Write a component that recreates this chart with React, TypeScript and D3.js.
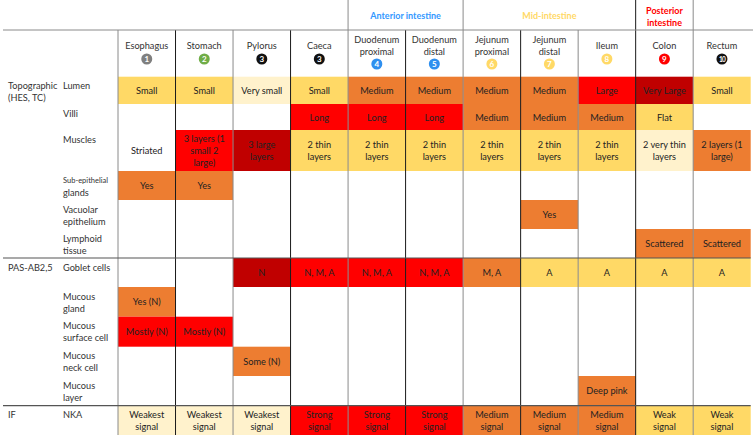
import * as d3 from "d3";

// columns (gut segments) and their header labels / numbers
const organs = [
  "Esophagus", "Stomach", "Pylorus", "Caeca", "Duodenum proximal", "Duodenum distal",
  "Jejunum proximal", "Jejunum distal", "Ileum", "Colon", "Rectum",
];
const organLabels = [
  ["Esophagus"], ["Stomach"], ["Pylorus"], ["Caeca"], ["Duodenum", "proximal"], ["Duodenum", "distal"],
  ["Jejunum", "proximal"], ["Jejunum", "distal"], ["Ileum"], ["Colon"], ["Rectum"],
];
const organNumbers = [1, 2, 3, 3, 4, 5, 6, 7, 8, 9, 10];
const numberColors = [
  "#7f7f7f", "#70ad47", "#111", "#111", "#2e8fef", "#2e8fef",
  "#ffd966", "#ffd966", "#ffd966", "#ff0000", "#111",
];

// region groups spanning columns
const groups = [
  { lines: ["Anterior intestine"], from: 4, to: 5, color: "#3399ff" },
  { lines: ["Mid-intestine"], from: 6, to: 8, color: "#ffd966" },
  { lines: ["Posterior", "intestine"], from: 9, to: 9, color: "#ff0000" },
];

// rows
const features = [
  ["Lumen"], ["Villi"], ["Muscles"], ["Sub-epithelial", "glands"], ["Vacuolar", "epithelium"],
  ["Lymphoid", "tissue"], ["Goblet cells"], ["Mucous", "gland"], ["Mucous", "surface cell"],
  ["Mucous", "neck cell"], ["Mucous", "layer"], ["NKA"],
];
const sections = [
  { lines: ["Topographic", "(HES, TC)"], row: 0 },
  { lines: ["PAS-AB2,5"], row: 6 },
  { lines: ["IF"], row: 11 },
];

// cell values ("" = empty) and intensity levels (0 none .. 5 darkest)
const values = [
  ["Small", "Small", "Very small", "Small", "Medium", "Medium", "Medium", "Medium", "Large", "Very Large", "Small"],
  ["", "", "", "Long", "Long", "Long", "Medium", "Medium", "Medium", "Flat", ""],
  ["Striated", "3 layers (1\nsmall 2\nlarge)", "3 large\nlayers", "2 thin\nlayers", "2 thin\nlayers", "2 thin\nlayers",
    "2 thin\nlayers", "2 thin\nlayers", "2 thin\nlayers", "2 very thin\nlayers", "2 layers (1\nlarge)"],
  ["Yes", "Yes", "", "", "", "", "", "", "", "", ""],
  ["", "", "", "", "", "", "", "Yes", "", "", ""],
  ["", "", "", "", "", "", "", "", "", "Scattered", "Scattered"],
  ["", "", "N", "N, M, A", "N, M, A", "N, M, A", "M, A", "A", "A", "A", "A"],
  ["Yes (N)", "", "", "", "", "", "", "", "", "", ""],
  ["Mostly (N)", "Mostly (N)", "", "", "", "", "", "", "", "", ""],
  ["", "", "Some (N)", "", "", "", "", "", "", "", ""],
  ["", "", "", "", "", "", "", "", "Deep pink", "", ""],
  ["Weakest\nsignal", "Weakest\nsignal", "Weakest\nsignal", "Strong\nsignal", "Strong\nsignal", "Strong\nsignal",
    "Medium\nsignal", "Medium\nsignal", "Medium\nsignal", "Weak\nsignal", "Weak\nsignal"],
];
const levels = [
  [2, 2, 1, 2, 3, 3, 3, 3, 4, 5, 2],
  [0, 0, 0, 4, 4, 4, 3, 3, 3, 2, 0],
  [0, 4, 5, 2, 2, 2, 2, 2, 2, 1, 3],
  [3, 3, 0, 0, 0, 0, 0, 0, 0, 0, 0],
  [0, 0, 0, 0, 0, 0, 0, 3, 0, 0, 0],
  [0, 0, 0, 0, 0, 0, 0, 0, 0, 3, 3],
  [0, 0, 5, 4, 4, 4, 3, 2, 2, 2, 2],
  [3, 0, 0, 0, 0, 0, 0, 0, 0, 0, 0],
  [4, 4, 0, 0, 0, 0, 0, 0, 0, 0, 0],
  [0, 0, 3, 0, 0, 0, 0, 0, 0, 0, 0],
  [0, 0, 0, 0, 0, 0, 0, 0, 3, 0, 0],
  [1, 1, 1, 4, 4, 4, 3, 3, 3, 2, 2],
];
const levelColors = ["none", "#fff2cc", "#ffd966", "#ed7d31", "#ff0000", "#c00000"];

const W = 753;
const H = 437;
const rowHeights = [27.3, 26, 41, 29, 29, 29, 29, 29.7, 30, 29.3, 29.7, 29.3];
const tableTop = 76.7;
const headTop = 30;
const font = "Lato, sans-serif";
const fs = 9.2;

export default function App() {
  const x = d3.scaleBand<string>().domain(organs).range([118, 750.7]);
  const bw = x.bandwidth();
  const tops = Array.from(d3.cumsum([0, ...rowHeights]), (v) => tableTop + v);
  const y = d3.scaleOrdinal<number, number>().domain(d3.range(tops.length)).range(tops);
  const color = d3.scaleOrdinal<number, string>().domain(d3.range(6)).range(levelColors);
  const bottom = y(features.length);
  const boundaries = d3.range(organs.length).map((i) => x(organs[i])!);
  const groupEdges = new Set(groups.flatMap((g) => [g.from, g.to + 1]));

  return (
    <svg width={W} height={H} style={{ position: "absolute", left: 0, top: 0 }} fontFamily={font}>
      <rect width={W} height={H} fill="#fff" />

      {/* cells */}
      {values.map((row, r) =>
        row.map((v, c) => {
          const lv = levels[r][c];
          const x0 = x(organs[c])!;
          const y0 = y(r);
          const h = rowHeights[r];
          const lines = v ? v.split("\n") : [];
          return (
            <g key={`${r}-${c}`}>
              {lv > 0 && <rect x={x0} y={y0} width={bw} height={h} fill={color(lv)} />}
              {lines.map((t, k) => (
                <text key={k} x={x0 + bw / 2} y={y0 + h / 2 + (k - (lines.length - 1) / 2) * 12}
                  textAnchor="middle" dominantBaseline="central" fontSize={fs} fill="#222">
                  {t}
                </text>
              ))}
            </g>
          );
        })
      )}

      {/* column headers */}
      {organLabels.map((lines, c) => {
        const cx = x(organs[c])! + bw / 2;
        const cy = lines.length > 1 ? 64 : 59;
        return (
          <g key={c}>
            {lines.map((t, k) => (
              <text key={k} x={cx} y={(lines.length > 1 ? 39 : 45) + k * 12} textAnchor="middle"
                dominantBaseline="central" fontSize={fs} fill="#333">
                {t}
              </text>
            ))}
            <circle cx={cx} cy={cy} r={5.5} fill={numberColors[c]} />
            <text x={cx} y={cy + 0.3} textAnchor="middle" dominantBaseline="central" fontWeight="bold"
              fontSize={organNumbers[c] > 9 ? 6.5 : 8} fill="#fff"
              letterSpacing={organNumbers[c] > 9 ? -0.8 : 0}>
              {organNumbers[c]}
            </text>
          </g>
        );
      })}

      {/* group headers */}
      {groups.map((g, i) => {
        const x0 = x(organs[g.from])!;
        const x1 = x(organs[g.to])! + bw;
        return g.lines.map((t, k) => (
          <text key={`${i}-${k}`} x={(x0 + x1) / 2} y={(g.lines.length > 1 ? 10 : 15) + k * 12}
            textAnchor="middle" dominantBaseline="central" fontSize={9} fontWeight="bold" fill={g.color}>
            {t}
          </text>
        ));
      })}

      {/* row labels */}
      {features.map((lines, r) =>
        lines.map((t, k) => (
          <text key={`${r}-${k}`} x={63} y={y(r) + 9 + k * 12} dominantBaseline="central"
            fontSize={t === "Sub-epithelial" ? 7.5 : fs} fill="#333">
            {t}
          </text>
        ))
      )}
      {sections.map((s, i) =>
        s.lines.map((t, k) => (
          <text key={`${i}-${k}`} x={8} y={y(s.row) + (i === 0 ? 8.3 : 9) + k * 12}
            dominantBaseline="central" fontSize={fs} fill="#333">
            {t}
          </text>
        ))
      )}

      {/* grid lines */}
      {boundaries.map((bx, i) => (
        <line key={i} x1={bx} x2={bx} y1={groupEdges.has(i) ? 0 : headTop} y2={bottom}
          stroke={i % 2 === 0 ? "#8a8a8a" : "#1a1a1a"} strokeWidth={1} />
      ))}
      <line x1={3} x2={W} y1={headTop} y2={headTop} stroke="#8a8a8a" strokeWidth={1} />
      {sections.slice(1).map((s, i) => (
        <line key={i} x1={3} x2={750.7} y1={y(s.row)} y2={y(s.row)} stroke="#555" strokeWidth={1.2} />
      ))}
    </svg>
  );
}
